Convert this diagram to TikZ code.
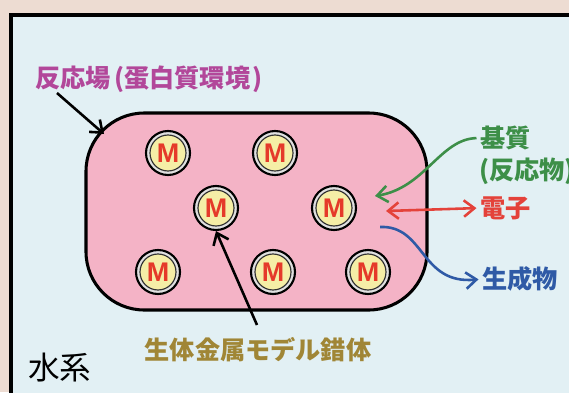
\documentclass[tikz,border=0pt]{standalone}
\usepackage{fontspec}
\setsansfont{Liberation Sans}
\newfontfamily\jpfont{Noto Sans CJK JP}
\usetikzlibrary{arrows.meta}

\definecolor{outerbg}{HTML}{EDDCD2}
\definecolor{waterbg}{HTML}{E2F0F4}
\definecolor{fieldpink}{HTML}{F4B3C6}
\definecolor{ringcream}{HTML}{F5EEA6}
\definecolor{metalred}{HTML}{E53A2A}
\definecolor{fieldmag}{HTML}{B2479A}
\definecolor{substgreen}{HTML}{3D8F48}
\definecolor{elecred}{HTML}{E4423A}
\definecolor{prodblue}{HTML}{2F5AA6}
\definecolor{cplxgold}{HTML}{A08636}

\begin{document}
\begin{tikzpicture}[x=0.03cm,y=-0.03cm,
  metal/.style={circle,draw=black,line width=1.8pt,fill=white!88!black,
    minimum size=1.32cm,inner sep=0pt,text=metalred,
    font=\sffamily\bfseries\fontsize{23}{23}\selectfont,
    path picture={\draw[black!80,line width=1pt,fill=ringcream]
      (path picture bounding box.center) circle (0.54cm);}},
  lbl/.style={inner sep=0pt,font=\jpfont\bfseries\fontsize{21.5}{24}\selectfont},
  barb/.style={line width=2.2pt,-{Straight Barb[length=9pt,width=14pt]}}]
  \useasboundingbox (0,0) rectangle (569,392);
  \clip (0,0) rectangle (569,392);
  \fill[outerbg] (0,0) rectangle (569,392);
  \draw[line width=2.6pt,fill=waterbg] (11,15) rectangle (590,410);

  % reaction field
  \node[draw=black,line width=2.6pt,fill=fieldpink,rounded corners=1.75cm,
    minimum width=10.23cm,minimum height=5.91cm] (field) at (256.5,211.5) {};

  \node[metal] (m1) at (168,153) {M};
  \node[metal] (m2) at (275,153) {M};
  \node[metal] (m3) at (216,208) {M};
  \node[metal] (m4) at (334,208) {M};
  \node[metal] (m5) at (158,272) {M};
  \node[metal] (m6) at (273,272) {M};
  \node[metal] (m7) at (368,272) {M};

  % labels
  \node[lbl,text=fieldmag,anchor=west] (fieldlbl) at (35,79)
    {反応場\hspace{3pt}(蛋白質環境\hspace{2pt})};
  \node[lbl,text=substgreen,anchor=west] (subst) at (480,138) {基質};
  \node[lbl,text=substgreen,anchor=west] (react) at (479,171) {(反応物)};
  \node[lbl,text=elecred,anchor=west] (elec) at (480,208) {電子};
  \node[lbl,text=prodblue,anchor=west] (prod) at (482,279) {生成物};
  \node[lbl,text=cplxgold] (cplx) at (258,350) {生体金属モデル錯体};
  \node[inner sep=0pt,anchor=west,font=\jpfont\fontsize{27}{30}\selectfont]
    (water) at (28,368) {水系};

  \coordinate (fieldtail) at (57,93);
  \coordinate (fieldtip) at (104,134);
  \coordinate (substtip) at (375,196);
  \coordinate (electail) at (386,211);
  \coordinate (prodtail) at (380,227);
  \coordinate (cplxtail) at (257,325);

  % arrows
  \draw[barb] (fieldtail) -- (fieldtip);
  \draw[barb,substgreen,shorten <=3pt]
    (subst.west) .. controls (440,139) and (425,188) .. (substtip);
  \draw[barb,elecred,shorten >=3pt,
    {Straight Barb[length=9pt,width=14pt]}-{Straight Barb[length=9pt,width=14pt]}]
    (electail) -- (elec.west);
  \draw[barb,prodblue,shorten >=3pt]
    (prodtail) .. controls (425,225) and (420,285) .. (prod.west);
  \draw[barb] (cplxtail) -- (m3.south);
\end{tikzpicture}
\end{document}
